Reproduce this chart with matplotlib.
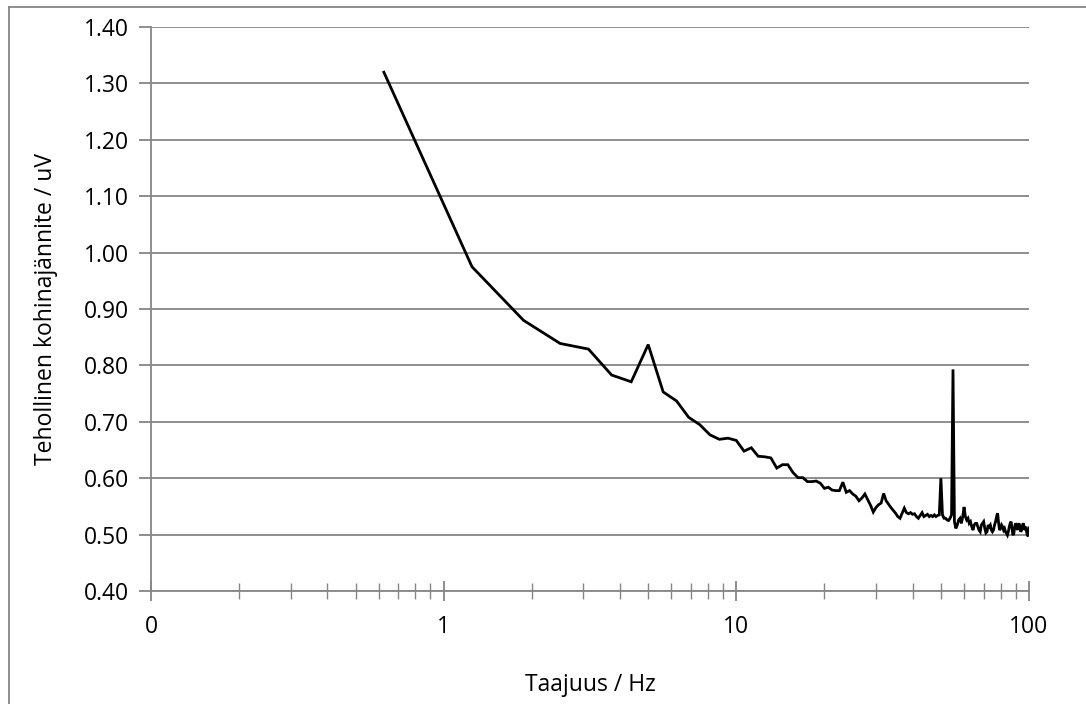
import matplotlib
matplotlib.use('Agg')
from matplotlib import pyplot as plt
from matplotlib.lines import Line2D
import numpy as np

# frequency bins (0.625 Hz resolution, 160 bins up to 100 Hz)
freq = 0.625 * np.arange(1, 161)

noise = [
    1.320, 0.975, 0.880, 0.839, 0.829, 0.783, 0.771, 0.837, 0.753, 0.737,
    0.708, 0.695, 0.677, 0.669, 0.671, 0.667, 0.648, 0.654, 0.639, 0.638,
    0.636, 0.618, 0.624, 0.624, 0.610, 0.601, 0.601, 0.594, 0.594, 0.595,
    0.591, 0.582, 0.584, 0.579, 0.578, 0.578, 0.593, 0.575, 0.578, 0.572,
    0.568, 0.560, 0.565, 0.572, 0.562, 0.552, 0.540, 0.548, 0.553, 0.556,
    0.573, 0.560, 0.554, 0.548, 0.543, 0.538, 0.532, 0.529, 0.538, 0.547,
    0.539, 0.537, 0.539, 0.536, 0.537, 0.532, 0.529, 0.534, 0.539, 0.532,
    0.534, 0.536, 0.532, 0.534, 0.532, 0.535, 0.532, 0.534, 0.535, 0.600,
    0.535, 0.529, 0.529, 0.526, 0.525, 0.529, 0.535, 0.793, 0.523, 0.511,
    0.517, 0.526, 0.529, 0.520, 0.532, 0.549, 0.532, 0.526, 0.529, 0.520,
    0.523, 0.514, 0.508, 0.517, 0.520, 0.520, 0.514, 0.508, 0.505, 0.517,
    0.520, 0.523, 0.511, 0.503, 0.505, 0.517, 0.514, 0.517, 0.508, 0.505,
    0.508, 0.517, 0.523, 0.532, 0.538, 0.520, 0.508, 0.511, 0.517, 0.514,
    0.508, 0.511, 0.505, 0.502, 0.499, 0.505, 0.514, 0.520, 0.523, 0.511,
    0.499, 0.502, 0.514, 0.520, 0.517, 0.508, 0.517, 0.520, 0.514, 0.505,
    0.508, 0.517, 0.520, 0.514, 0.508, 0.514, 0.505, 0.499, 0.497, 0.512,
]

x_ticks = [0.1, 1, 10, 100]
x_tick_labels = ['0', '1', '10', '100']
y_ticks = [0.4, 0.5, 0.6, 0.7, 0.8, 0.9, 1.0, 1.1, 1.2, 1.3, 1.4]

plt.rcParams['font.family'] = ['Open Sans', 'DejaVu Sans']
grey = '#868686'

fig = plt.figure(figsize=(10.86, 7.04), dpi=100)
ax = fig.add_axes([0.139, 0.1605, 0.8085, 0.801])

ax.plot(freq, noise, color='black', linewidth=2.0, solid_joinstyle='miter')

ax.set_xscale('log')
ax.set_xlim(0.1, 100)
ax.set_ylim(0.4, 1.4)
ax.set_xticks(x_ticks)
ax.set_xticklabels(x_tick_labels)
ax.xaxis.set_minor_locator(matplotlib.ticker.LogLocator(base=10, subs=np.arange(2, 10)))
ax.xaxis.set_minor_formatter(matplotlib.ticker.NullFormatter())
ax.set_yticks(y_ticks)
ax.set_yticklabels(['%.2f' % v for v in y_ticks])

ax.grid(axis='y', color=grey, linewidth=1.3)
ax.set_axisbelow(True)
for s in ['top', 'right']:
    ax.spines[s].set_visible(False)
for s in ['left', 'bottom']:
    ax.spines[s].set_color(grey)
    ax.spines[s].set_linewidth(1.3)

ax.tick_params(axis='x', which='major', direction='inout', length=14, width=1.3,
               color=grey, labelsize=16.5, pad=10)
ax.tick_params(axis='x', which='minor', direction='inout', length=11, width=1.0,
               color=grey)
ax.tick_params(axis='y', direction='out', length=9, width=1.3, color=grey,
               labelsize=16.5, pad=7)

ax.set_xlabel('Taajuus / Hz', fontsize=16.5, labelpad=25)
ax.set_ylabel('Tehollinen kohinajännite / uV', fontsize=16.5, labelpad=18)

# chart area border (left and top edges visible)
fig.add_artist(Line2D([0.0083, 0.0083], [0.0, 0.990], transform=fig.transFigure,
                      color=grey, linewidth=1.3))
fig.add_artist(Line2D([0.0083, 1.0], [0.990, 0.990], transform=fig.transFigure,
                      color=grey, linewidth=1.3))

fig.savefig('out.png', dpi=100)
